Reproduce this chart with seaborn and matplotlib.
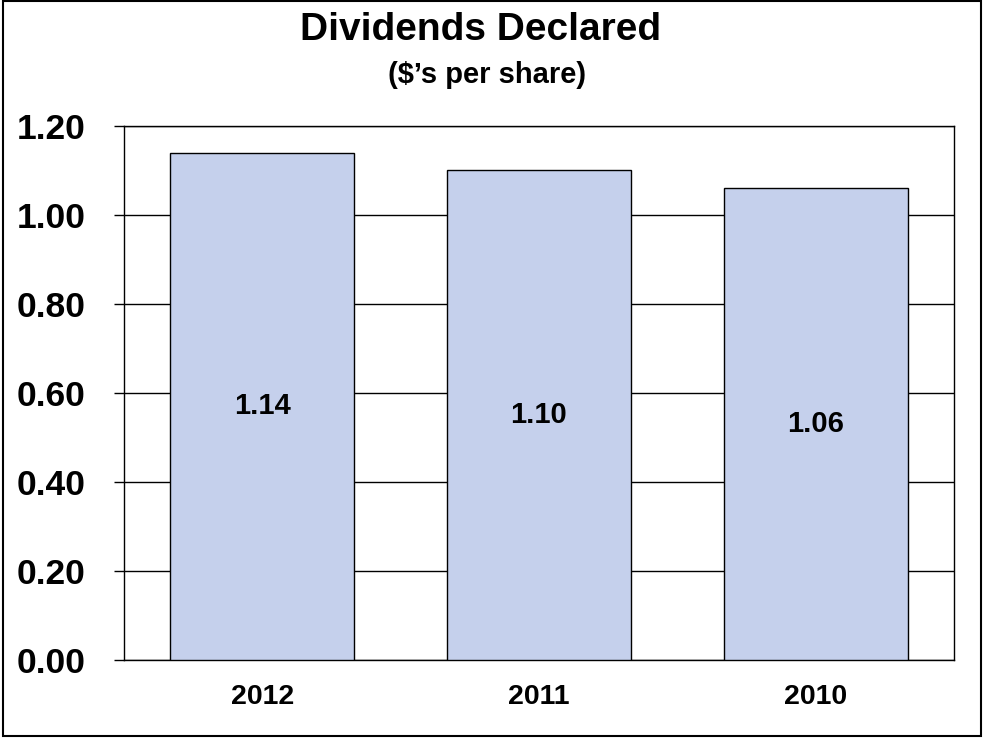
import numpy as np
import pandas as pd
import matplotlib.pyplot as plt
import matplotlib.patches as patches
import seaborn as sns

years = ['2012', '2011', '2010']
dividends = [1.14, 1.10, 1.06]
yticks = [0.0, 0.2, 0.4, 0.6, 0.8, 1.0, 1.2]

df = pd.DataFrame({'year': years, 'dividend': dividends})

sns.set_style('white')
plt.rcParams['font.family'] = ['Liberation Sans', 'DejaVu Sans']
plt.rcParams['text.color'] = 'black'
plt.rcParams['xtick.color'] = 'black'
plt.rcParams['ytick.color'] = 'black'

fig = plt.figure(figsize=(9.84, 7.38), dpi=100)
ax = fig.add_axes([0.126, 0.1057, 0.8435, 0.7236])

sns.barplot(data=df, x='year', y='dividend', color='#C5D0EC', saturation=1,
            width=0.665, edgecolor='black', linewidth=1, ax=ax, zorder=3)

ax.set_ylim(0, 1.2)
ax.set_xlim(-0.5, len(years) - 0.5)
ax.set_yticks(yticks)
ax.set_yticklabels([f'{t:.2f}' for t in yticks], fontsize=25.5, fontweight='bold')
ax.yaxis.grid(True, color='black', linewidth=1)
ax.set_axisbelow(True)

# x ticks between categories, labels centered
ax.set_xticks(range(len(years)))
ax.set_xticklabels(years, fontsize=20.5, fontweight='bold')
ax.set_xticks(np.arange(-0.5, len(years)), minor=True)
ax.tick_params(axis='x', which='major', length=0, pad=17)
ax.tick_params(axis='x', which='minor', length=7.5, width=1, color='black', direction='out')
ax.tick_params(axis='y', length=7.5, width=1, color='black', direction='out', pad=20, left=True)
ax.set_xlabel('')
ax.set_ylabel('')

for s in ax.spines.values():
    s.set_color('black')
    s.set_linewidth(1)

for i, v in enumerate(dividends):
    ax.text(i, v / 2, f'{v:.2f}', ha='center', va='center',
            fontsize=21, fontweight='bold', color='black', zorder=4)

fig.text(0.488, 0.96, 'Dividends Declared', ha='center', va='center',
         fontsize=28, fontweight='bold')
fig.text(0.495, 0.898, "($\u2019s per share)", ha='center', va='center',
         fontsize=21, fontweight='bold')

fig.patches.append(patches.Rectangle((0.003, 0.003), 0.994, 0.995, transform=fig.transFigure,
                                     fill=False, edgecolor='black', linewidth=1.5))

fig.savefig('out.png', dpi=100)
